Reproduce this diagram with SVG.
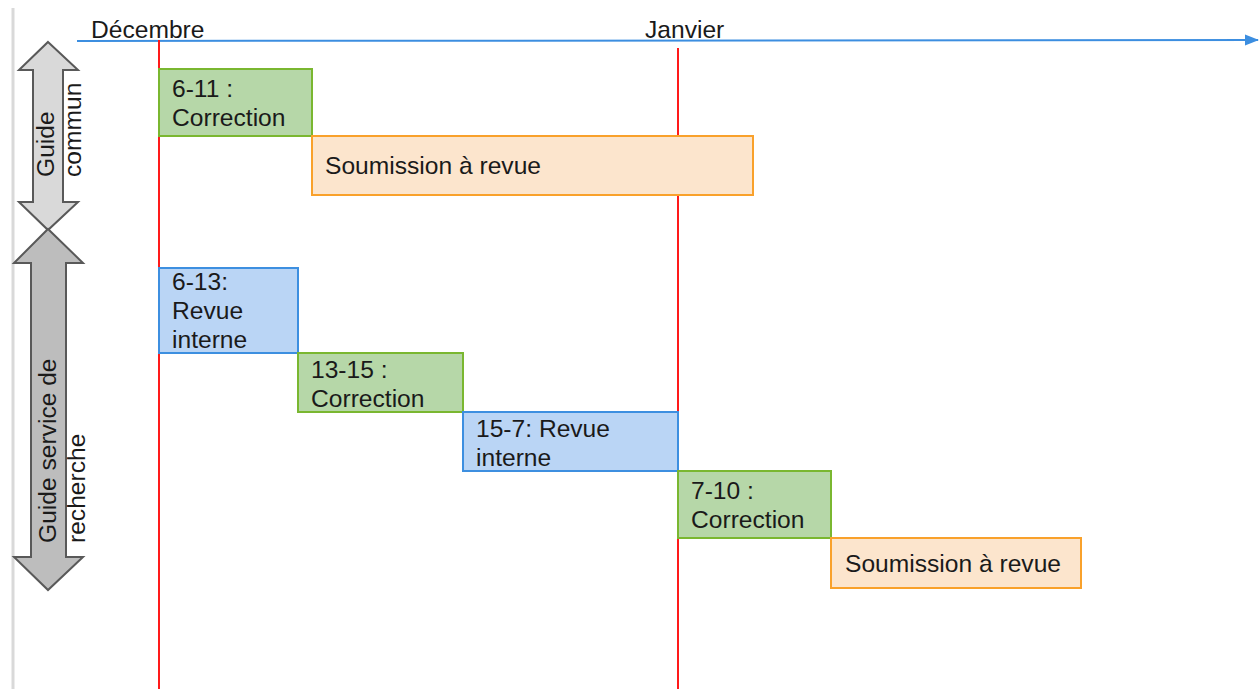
<svg xmlns="http://www.w3.org/2000/svg" width="1259" height="689" viewBox="0 0 1259 689">
<style>
text{font-family:"Liberation Sans",Arial,sans-serif;font-size:24.6px;fill:#1a1a1a}
.g{fill:#b6d7a8;stroke:#7ab730;stroke-width:2}
.o{fill:#fce5cd;stroke:#f9a12b;stroke-width:2}
.b{fill:#bad5f5;stroke:#3d8fe0;stroke-width:2}
.red{stroke:#ff1a1a;stroke-width:2}
</style>
<defs>
<marker id="ah" markerWidth="14" markerHeight="12" refX="13" refY="6" orient="auto" markerUnits="userSpaceOnUse" viewBox="0 0 14 12">
<path d="M0,0.5 L14,6 L0,11.5 Z" fill="#3c8ee0"/>
</marker>
</defs>
<rect width="1259" height="689" fill="#ffffff"/>
<line x1="13" y1="8" x2="13" y2="689" stroke="#d9d9d9" stroke-width="3"/>
<g id="connectors">
<line x1="77" y1="41" x2="1258" y2="40" stroke="#3c8ee0" stroke-width="2" marker-end="url(#ah)"/>
<line class="red" x1="159" y1="40" x2="159" y2="689"/>
<line class="red" x1="678" y1="48" x2="678" y2="689"/>
</g>
<g id="months">
<text x="91" y="38">Décembre</text>
<text x="645" y="38">Janvier</text>
</g>
<g id="guide-commun">
<path d="M48,42 L78,70 L63,70 L63,202 L78,202 L48,230 L19,202 L33,202 L33,70 L19,70 Z" fill="#d9d9d9" stroke="#595959" stroke-width="2"/>
<text transform="translate(54,177) rotate(-90)">Guide</text>
<text transform="translate(81,177) rotate(-90)">commun</text>
</g>
<g id="guide-recherche">
<path d="M48,229 L83,263 L66,263 L66,557 L83,557 L48,590 L14,557 L31,557 L31,263 L14,263 Z" fill="#bdbdbd" stroke="#595959" stroke-width="2"/>
<text transform="translate(56,543) rotate(-90)">Guide service de</text>
<text transform="translate(85,543) rotate(-90)">recherche</text>
</g>
<g id="t1">
<rect class="g" x="159" y="69" width="153" height="67"/>
<text x="172" y="97">6-11 :</text>
<text x="172" y="126">Correction</text>
</g>
<g id="t2">
<rect class="o" x="312" y="136" width="441" height="59"/>
<text x="325" y="174">Soumission à revue</text>
</g>
<g id="t3">
<rect class="b" x="159" y="268" width="139" height="85"/>
<text x="172" y="290">6-13:</text>
<text x="172" y="319">Revue</text>
<text x="172" y="348">interne</text>
</g>
<g id="t4">
<rect class="g" x="298" y="353" width="165" height="59"/>
<text x="311" y="378">13-15 :</text>
<text x="311" y="407">Correction</text>
</g>
<g id="t5">
<rect class="b" x="463" y="412" width="215" height="59"/>
<text x="476" y="437">15-7: Revue</text>
<text x="476" y="466">interne</text>
</g>
<g id="t6">
<rect class="g" x="678" y="471" width="153" height="67"/>
<text x="691" y="499">7-10 :</text>
<text x="691" y="528">Correction</text>
</g>
<g id="t7">
<rect class="o" x="831" y="538" width="250" height="50"/>
<text x="845" y="572">Soumission à revue</text>
</g>
</svg>
